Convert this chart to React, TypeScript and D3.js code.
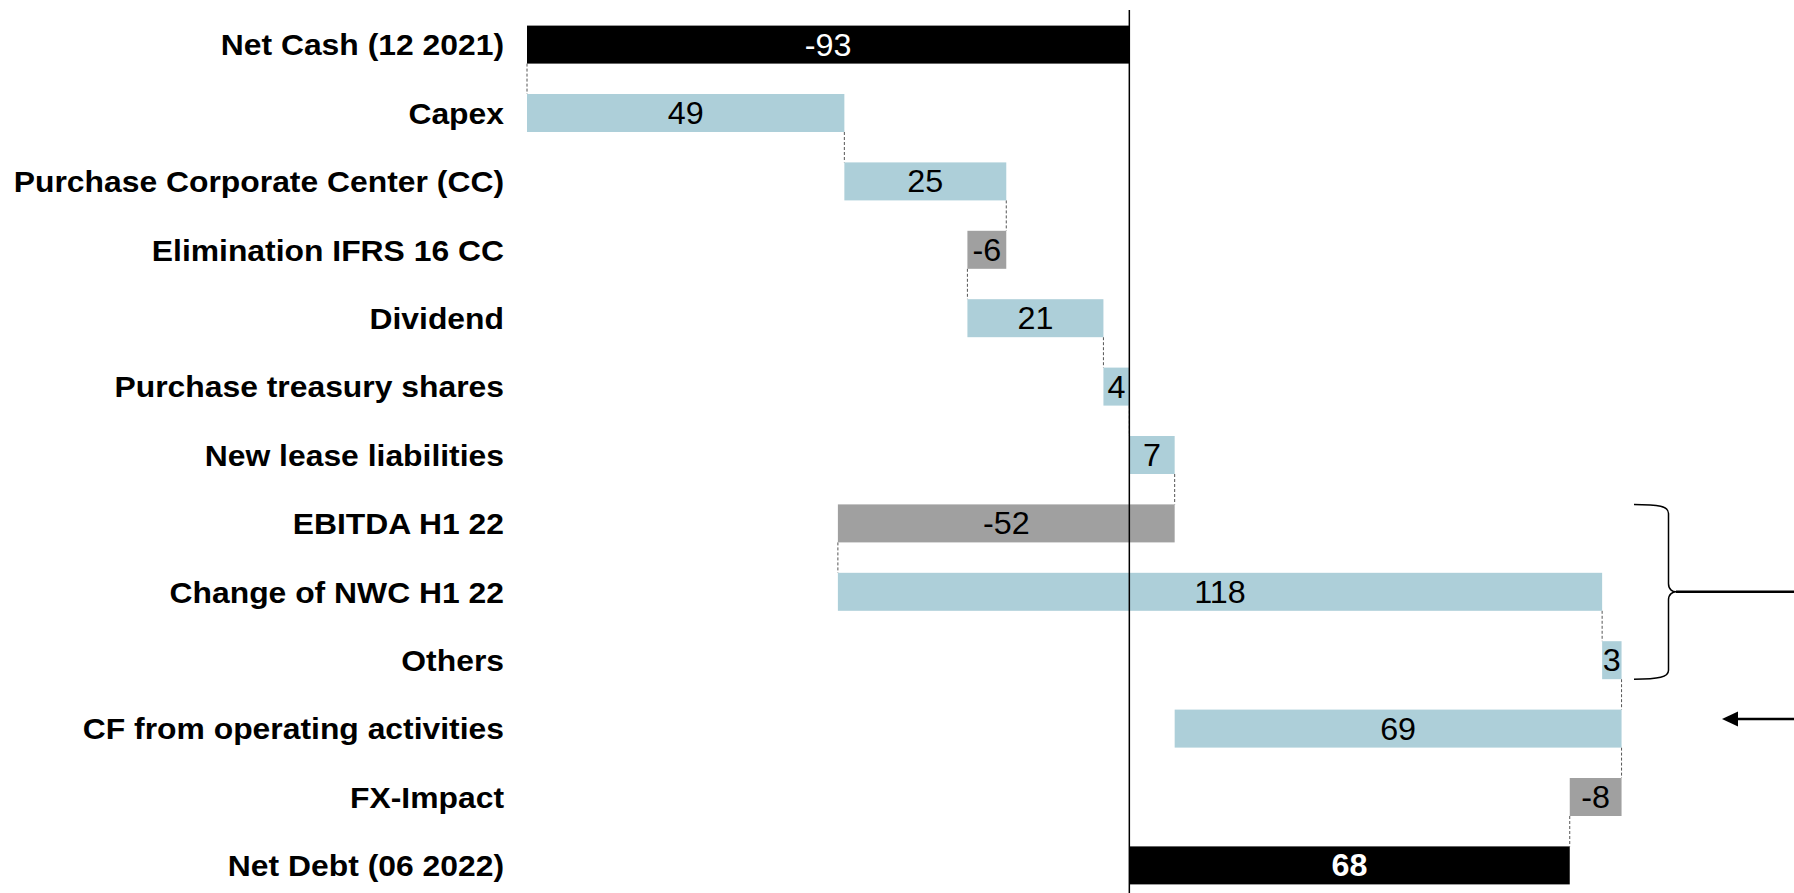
import React from "react";
import * as d3 from "d3";

// Net cash bridge, 12/2021 -> 06/2022 (EUR m)
const categories: string[] = [
  "Net Cash (12 2021)",
  "Capex",
  "Purchase Corporate Center (CC)",
  "Elimination IFRS 16 CC",
  "Dividend",
  "Purchase treasury shares",
  "New lease liabilities",
  "EBITDA H1 22",
  "Change of NWC H1 22",
  "Others",
  "CF from operating activities",
  "FX-Impact",
  "Net Debt (06 2022)",
];

const values: number[] = [-93, 49, 25, -6, 21, 4, 7, -52, 118, 3, 69, -8, 68];

// "total" bars start at zero, "delta" bars move the running balance,
// "subtotal" bars summarise the steps already taken.
const kinds: string[] = [
  "total", "delta", "delta", "delta", "delta", "delta", "delta",
  "delta", "delta", "delta", "subtotal", "delta", "total",
];

// Rows grouped by the brace, and the row the arrow points at
const braceRows: string[] = ["EBITDA H1 22", "Others"];
const arrowRow = "CF from operating activities";

const xDomain: [number, number] = [-93, 100];

const W = 1794;
const H = 893;
const FONT = "'Liberation Sans', Arial, Helvetica, sans-serif";

const COLORS = {
  total: "#000000",
  up: "#ADCFD9",
  down: "#A0A0A0",
};

type Bar = { cat: string; value: number; kind: string; start: number; end: number; running: number };

function buildBars(): Bar[] {
  let running = 0;
  return categories.map((cat, i) => {
    const value = values[i];
    const kind = kinds[i];
    let start = 0;
    let end = 0;
    if (kind === "total") {
      start = 0;
      end = value;
      running = value;
    } else if (kind === "subtotal") {
      start = running - value;
      end = running;
    } else {
      start = running;
      end = running + value;
      running = end;
    }
    return { cat, value, kind, start, end, running };
  });
}

export default function App() {
  const bars = buildBars();
  const x = d3.scaleLinear().domain(xDomain).range([527, 1777]);
  const y = d3.scalePoint<string>().domain(categories).range([44.6, 865.4]);
  const barH = 38;
  const labelX = 504;
  const x0 = x(0);

  const fillOf = (b: Bar) =>
    b.kind === "total" ? COLORS.total : b.value < 0 ? COLORS.down : COLORS.up;

  // brace geometry
  const bTop = (y(braceRows[0]) as number) - barH / 2;
  const bBot = (y(braceRows[1]) as number) + barH / 2;
  const bMid = (bTop + bBot) / 2;
  const bxL = 1634;
  const bxV = 1668.5;
  const bxTip = 1676;
  const bracePath = [
    `M${bxL},${bTop}`,
    `C${bxL + 25},${bTop} ${bxV},${bTop + 2} ${bxV},${bTop + 9}`,
    `L${bxV},${bMid - 8}`,
    `C${bxV},${bMid - 2} ${bxTip - 3},${bMid} ${bxTip},${bMid}`,
    `C${bxTip - 3},${bMid} ${bxV},${bMid + 2} ${bxV},${bMid + 8}`,
    `L${bxV},${bBot - 9}`,
    `C${bxV},${bBot - 2} ${bxL + 25},${bBot} ${bxL},${bBot}`,
  ].join(" ");

  const arrowY = (y(arrowRow) as number) - 9.5;

  return (
    <div style={{ position: "absolute", left: 0, top: 0 }}>
      <svg width={W} height={H} style={{ display: "block", background: "#fff" }}>
        {/* category labels (slightly widened type) */}
        {bars.map((b) => (
          <g key={"lab-" + b.cat} transform={`translate(${labelX},${y(b.cat)}) scale(1.062,1)`}>
            <text
              dy="0.36em"
              textAnchor="end"
              fontFamily={FONT}
              fontWeight="bold"
              fontSize={30}
              fill="#000"
            >
              {b.cat}
            </text>
          </g>
        ))}

        {/* connectors */}
        {bars.slice(0, -1).map((b, i) => {
          const next = bars[i + 1];
          const cx = x(b.running);
          return (
            <line
              key={"con-" + i}
              x1={cx}
              x2={cx}
              y1={(y(b.cat) as number) + barH / 2}
              y2={(y(next.cat) as number) - barH / 2}
              stroke="#555"
              strokeWidth={1}
              strokeDasharray="3,2"
            />
          );
        })}

        {/* bars */}
        {bars.map((b) => {
          const xa = x(Math.min(b.start, b.end));
          const xb = x(Math.max(b.start, b.end));
          return (
            <rect
              key={"bar-" + b.cat}
              x={xa}
              y={(y(b.cat) as number) - barH / 2}
              width={xb - xa}
              height={barH}
              fill={fillOf(b)}
            />
          );
        })}

        {/* zero axis */}
        <line x1={x0} x2={x0} y1={10} y2={H} stroke="#000" strokeWidth={1.5} />

        {/* value labels */}
        {bars.map((b) => (
          <g
            key={"val-" + b.cat}
            transform={`translate(${(x(b.start) + x(b.end)) / 2},${y(b.cat)}) scale(1.06,1)`}
          >
            <text
              dy="0.36em"
              textAnchor="middle"
              fontFamily={FONT}
              fontSize={30.5}
              fontWeight={b.kind === "total" && b.value > 0 ? "bold" : "normal"}
              fill={b.kind === "total" ? "#fff" : "#000"}
            >
              {b.value}
            </text>
          </g>
        ))}

        {/* brace over the operating cash flow items */}
        <path d={bracePath} fill="none" stroke="#000" strokeWidth={1.5} />
        <line x1={bxTip} x2={W} y1={bMid} y2={bMid} stroke="#000" strokeWidth={2.5} />

        {/* arrow pointing at the operating cash flow bar */}
        <line x1={W} x2={1735} y1={arrowY} y2={arrowY} stroke="#000" strokeWidth={2.5} />
        <path
          d={`M1722,${arrowY} L1738,${arrowY - 7.5} L1738,${arrowY + 7.5} Z`}
          fill="#000"
        />
      </svg>
    </div>
  );
}
